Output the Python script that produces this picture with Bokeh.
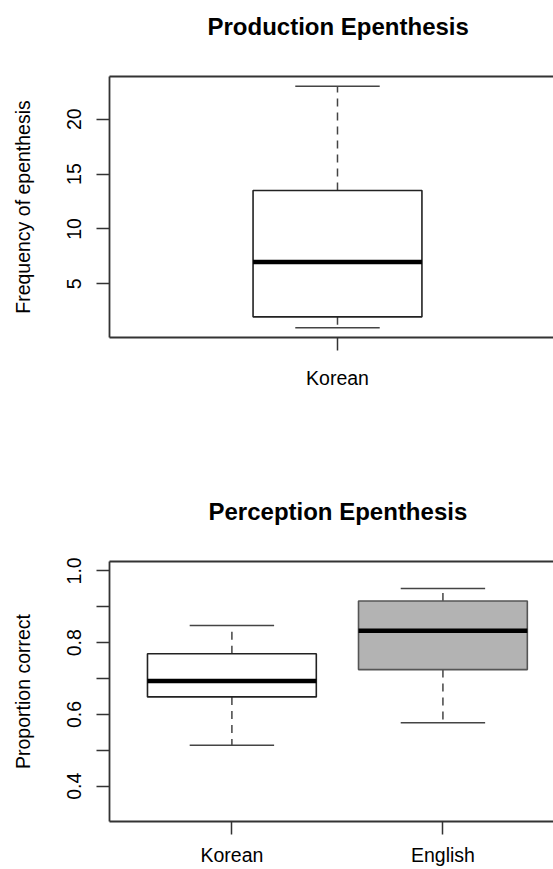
from bokeh.plotting import figure
from bokeh.models import LinearAxis, FixedTicker, CustomJSTickFormatter, Range1d
from bokeh.layouts import column
from bokeh.embed import file_html
from bokeh.resources import INLINE

# ---- data ----
prod_title = "Production Epenthesis"
prod_groups = ["Korean"]
prod_min = [1.0]
prod_q1 = [2.0]
prod_med = [7.0]
prod_q3 = [13.5]
prod_max = [23.0]
prod_fill = ["white"]
prod_yticks = [5, 10, 15, 20]

perc_title = "Perception Epenthesis"
perc_groups = ["Korean", "English"]
perc_min = [0.514, 0.577]
perc_q1 = [0.649, 0.725]
perc_med = [0.693, 0.833]
perc_q3 = [0.769, 0.916]
perc_max = [0.848, 0.951]
perc_fill = ["white", "#B3B3B3"]
perc_yticks = [0.4, 0.5, 0.6, 0.7, 0.8, 0.9, 1.0]

FONT = "Liberation Sans"
AX = "#333333"


def style(p, title_offset, title_gap, yticks, ylabel, xlabels, fmt_js, xlab_standoff):
    p.outline_line_color = None
    p.grid.visible = False
    p.background_fill_color = "white"
    p.border_fill_color = "white"

    p.title.text_font = FONT
    p.title.text_font_size = "24px"
    p.title.text_font_style = "bold"
    p.title.text_color = "black"
    p.title.align = "left"
    p.title.offset = title_offset
    p.title.standoff = 0

    ya = p.yaxis[0]
    ya.ticker = FixedTicker(ticks=yticks)
    ya.formatter = CustomJSTickFormatter(code=fmt_js)
    ya.major_label_orientation = "vertical"
    ya.axis_label = ylabel
    ya.axis_label_text_font = FONT
    ya.axis_label_text_font_size = "19.5px"
    ya.axis_label_text_font_style = "normal"
    ya.axis_label_text_color = "black"
    ya.axis_label_standoff = 31
    ya.major_label_text_font = FONT
    ya.major_label_text_font_size = "19.5px"
    ya.major_label_text_color = "black"
    ya.major_label_standoff = 15
    ya.major_tick_out = 13
    ya.major_tick_in = 0
    ya.minor_tick_line_color = None
    ya.axis_line_color = AX
    ya.axis_line_width = 1.8
    ya.major_tick_line_color = AX
    ya.major_tick_line_width = 1.5

    xa = p.xaxis[0]
    xa.ticker = FixedTicker(ticks=list(range(1, len(xlabels) + 1)))
    xa.major_label_overrides = {i + 1: lab for i, lab in enumerate(xlabels)}
    xa.major_label_text_font = FONT
    xa.major_label_text_font_size = "19.5px"
    xa.major_label_text_color = "black"
    xa.major_label_standoff = xlab_standoff
    xa.major_tick_out = 13
    xa.major_tick_in = 0
    xa.minor_tick_line_color = None
    xa.axis_line_color = AX
    xa.axis_line_width = 1.8
    xa.major_tick_line_color = AX
    xa.major_tick_line_width = 1.5

    # top frame line; a blank axis label spaces the title above the frame
    top = LinearAxis(ticker=FixedTicker(ticks=[]))
    top.axis_line_color = AX
    top.axis_line_width = 1.8
    top.major_tick_line_color = None
    top.minor_tick_line_color = None
    top.major_label_text_font_size = "0px"
    top.axis_label = " "
    top.axis_label_text_font_size = "10px"
    top.axis_label_text_color = "white"
    top.axis_label_standoff = title_gap - 11
    p.add_layout(top, "above")


def draw_boxes(p, mins, q1, med, q3, maxs, fills, half, cap_half):
    xs = list(range(1, len(mins) + 1))
    left = [x - half for x in xs]
    right = [x + half for x in xs]
    cl = [x - cap_half for x in xs]
    cr = [x + cap_half for x in xs]
    line_cols = ["#222222" if f == "white" else "#555555" for f in fills]
    p.segment(x0=xs, y0=q3, x1=xs, y1=maxs, line_color="#444444",
              line_width=1.5, line_dash="8 6")
    p.segment(x0=xs, y0=q1, x1=xs, y1=mins, line_color="#444444",
              line_width=1.5, line_dash="8 6")
    p.segment(x0=cl, y0=maxs, x1=cr, y1=maxs, line_color="#444444", line_width=1.5)
    p.segment(x0=cl, y0=mins, x1=cr, y1=mins, line_color="#444444", line_width=1.5)
    p.quad(left=left, right=right, bottom=q1, top=q3, fill_color=fills,
           line_color=line_cols, line_width=1.6)
    p.segment(x0=left, y0=med, x1=right, y1=med, line_color="black", line_width=4.5)


p1 = figure(width=553, height=439, output_backend="svg", toolbar_location=None,
            title=prod_title,
            x_range=Range1d(0.46, 1.5116), y_range=Range1d(0.12, 23.88),
            min_border_left=109, min_border_right=0, min_border_top=76,
            min_border_bottom=102)
style(p1, 98, 34, prod_yticks, "Frequency of epenthesis", prod_groups,
      "return tick.toFixed(0);", 16)
draw_boxes(p1, prod_min, prod_q1, prod_med, prod_q3, prod_max, prod_fill, 0.2, 0.1)

p2 = figure(width=553, height=429, output_backend="svg", toolbar_location=None,
            title=perc_title,
            x_range=Range1d(0.42, 2.524), y_range=Range1d(0.302, 1.026),
            min_border_left=109, min_border_right=0, min_border_top=122,
            min_border_bottom=47)
style(p2, 99, 34, perc_yticks, "Proportion correct", perc_groups,
      "return (Math.round(tick*10) % 2 == 0) ? tick.toFixed(1) : '';", 9)
draw_boxes(p2, perc_min, perc_q1, perc_med, perc_q3, perc_max, perc_fill, 0.4, 0.2)

layout = column(p1, p2, spacing=0)
open("out.html", "w").write(file_html(layout, INLINE))
